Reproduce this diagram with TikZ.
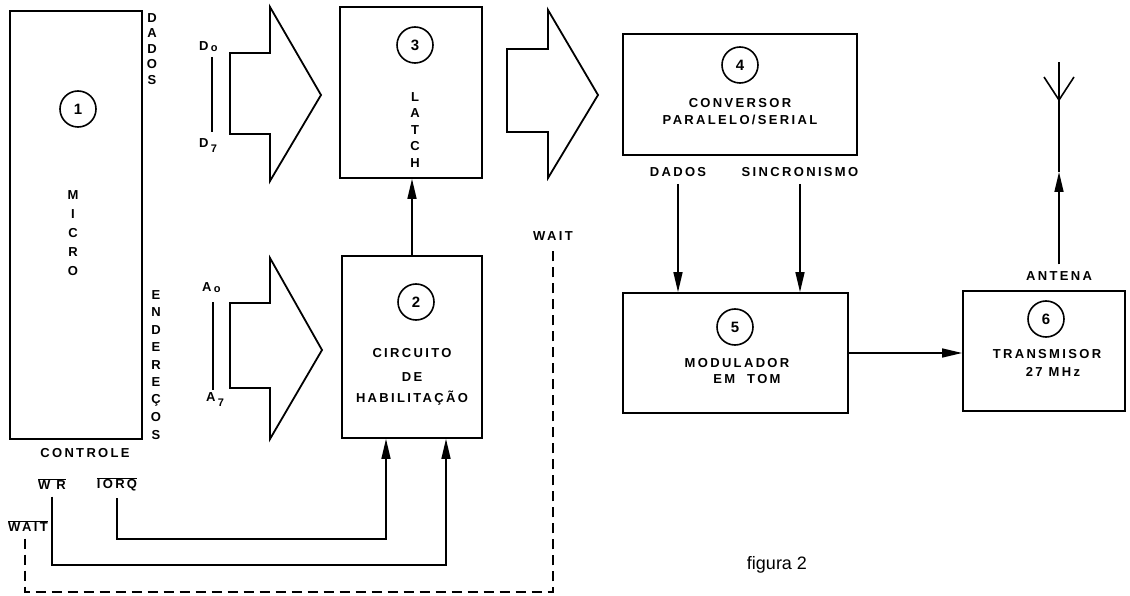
\documentclass[tikz,border=0pt]{standalone}
\usepackage{fontspec}
\newfontfamily\lblfont{Liberation Sans}[LetterSpace=18]
\newfontfamily\figfont{Liberation Sans}
\newcommand{\lowsub}[2]{\,\raisebox{#1}{\fontsize{11}{11}\selectfont #2}}
\usepackage{tikz}
\usetikzlibrary{arrows.meta,fit,positioning}

\begin{document}
\begin{tikzpicture}[x=1pt,y=-1pt,
  blk/.style={draw,line width=1.8pt,inner sep=0pt},
  num/.style={draw,circle,line width=1.6pt,minimum size=36pt,inner sep=0pt,font=\lblfont\bfseries\fontsize{15}{15}\selectfont},
  lbl/.style={font=\lblfont\bfseries\fontsize{13}{16}\selectfont,inner sep=1pt},
  sig/.style={line width=1.6pt,line join=miter,-{Triangle[length=20pt,width=9pt]}},
  wire/.style={line width=1.6pt},
  dsh/.style={line width=1.6pt,dash pattern=on 10pt off 6pt},
  bus/.style={line width=1.8pt,line join=miter}]
\useasboundingbox (0,0) rectangle (1130,596);

\node[blk,fit={(10,11) (142,439)}] (micro) {};
\node[blk,fit={(340,7) (482,178)}] (latch) {};
\node[blk,fit={(342,256) (482,438)}] (hab) {};
\node[blk,fit={(623,34) (857,155)}] (conv) {};
\node[blk,fit={(623,293) (848,413)}] (mod) {};
\node[blk,fit={(963,291) (1125,411)}] (trans) {};

\node[num] (n1) at (78,109) {1};
\node[num] (n2) at (416,302) {2};
\node[num] (n3) at (415,45) {3};
\node[num] (n4) at (740,65) {4};
\node[num] (n5) at (735,327) {5};
\node[num] (n6) at (1046,319) {6};

\foreach \c [count=\i] in {M,I,C,R,O}
  \node[lbl] (micro\i) at (73,{195+19*(\i-1)}) {\c};
\foreach \c [count=\i] in {L,A,T,C,H}
  \node[lbl] (latch\i) at (415,{97+16.5*(\i-1)}) {\c};
\foreach \c [count=\i] in {D,A,D,O,S}
  \node[lbl] (dados\i) at (152,{18+15.5*(\i-1)}) {\c};
\foreach \c [count=\i] in {E,N,D,E,R,E,Ç,O,S}
  \node[lbl] (end\i) at (156,{295+17.5*(\i-1)}) {\c};

\node[lbl] (hab1) at (412,353) {CIRCUITO};
\node[lbl] (hab2) at (412,377) {DE};
\node[lbl] (hab3) at (412,398) {HABILITAÇÃO};
\node[lbl] (conv1) at (740,103) {CONVERSOR};
\node[lbl] (conv2) at (740,120) {PARALELO/SERIAL};
\node[lbl] (mod1) at (737,363) {MODULADOR};
\node[lbl] (mod2) at (747,379) {EM\ \ TOM};
\node[lbl] (trans1) at (1047,354) {TRANSMISOR};
\node[lbl] (trans2) at (1053,372) {27 MHz};

\node[lbl,anchor=west] (d0) at (198,47) {D\lowsub{-1pt}{o}};
\node[lbl,anchor=west] (d7) at (198,146) {D\lowsub{-5pt}{7}};
\node[lbl,anchor=west] (a0) at (201,288) {A\lowsub{-1pt}{o}};
\node[lbl,anchor=west] (a7) at (205,400) {A\lowsub{-5pt}{7}};
\draw[wire] (212,57) -- (212,132);
\draw[wire] (213,302) -- (213,390);

\draw[bus] (230,53) -- (270,53) -- (270,7) -- (321,95) -- (270,181) -- (270,134) -- (230,134) -- cycle;
\draw[bus] (230,303) -- (270,303) -- (270,258) -- (322,350) -- (270,439) -- (270,388) -- (230,388) -- cycle;
\draw[bus] (507,49) -- (548,49) -- (548,10) -- (598,95) -- (548,178) -- (548,132) -- (507,132) -- cycle;

\node[lbl] (ctrl) at (85,453) {CONTROLE};
\node[lbl] (wr) at (52,484) {$\overline{\mbox{W R}}$};
\node[lbl] (iorq) at (117,484) {$\overline{\mbox{IORQ}}$};
\node[lbl] (waitb) at (28,526) {$\overline{\mbox{WAIT}}$};
\node[lbl] (wait) at (553,236) {WAIT};
\node[lbl] (dad) at (678,172) {DADOS};
\node[lbl] (sinc) at (800,172) {SINCRONISMO};
\node[lbl] (ant) at (1059,276) {ANTENA};
\node[font=\figfont\fontsize{18}{18}\selectfont] (fig) at (777,565) {figura 2};

\draw[sig] (hab.north) -- (hab.north |- latch.south);
\draw[sig] ([yshift=-6pt]wr.south) |- ([xshift=34pt]hab.south |- 0,565) -- ([xshift=34pt]hab.south);
\draw[sig] ([yshift=-6pt]iorq.south) |- ([xshift=-26pt]hab.south |- 0,539) -- ([xshift=-26pt]hab.south);
\draw[dsh] ([xshift=-3pt,yshift=-6pt]waitb.south) |- (wait.south |- 0,592) -- ([yshift=-6pt]wait.south);

\draw[sig] ([yshift=-6pt]dad.south) -- (dad.south |- mod.north);
\draw[sig] ([yshift=-6pt]sinc.south) -- (sinc.south |- mod.north);
\draw[sig] (mod.east) -- (mod.east -| trans.west);

\coordinate (amid) at (1059,172);
\coordinate (afeed) at (1059,100);
\coordinate (atop) at (1059,62);
\coordinate (al) at (1044,77);
\coordinate (ar) at (1074,77);
\draw[sig] ([yshift=6pt]ant.north) -- (amid);
\draw[wire] (amid) -- (atop);
\draw[wire] (al) -- (afeed) -- (ar);
\end{tikzpicture}
\end{document}
